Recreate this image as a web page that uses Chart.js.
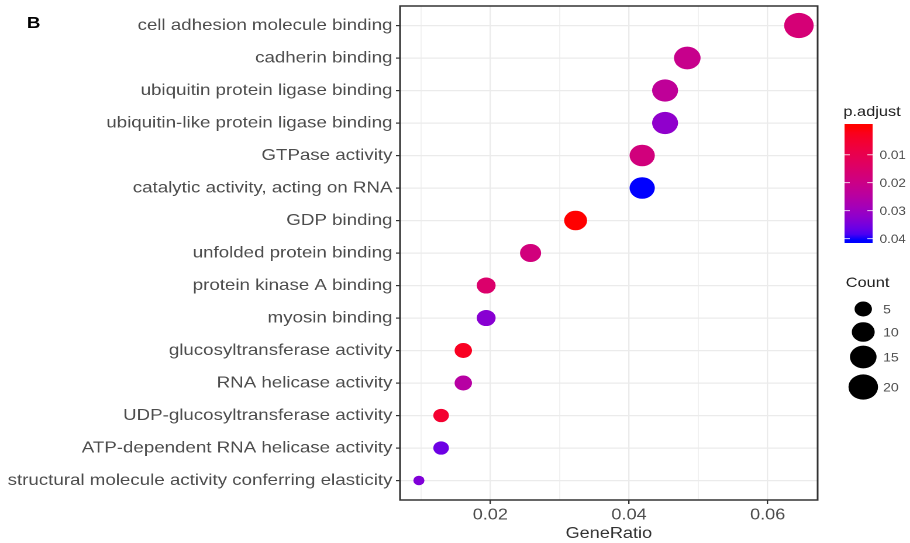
<!DOCTYPE html>
<html>
<head>
<meta charset="utf-8">
<script src="https://cdn.jsdelivr.net/npm/chart.js@4.4.1/dist/chart.umd.min.js"></script>
<style>
  body { margin: 0; background: #fff; overflow: hidden; }
  /* the reference picture is stretched sideways, so the chart is drawn narrow and widened */
  #wrap { position: relative; width: 778px; height: 543px; transform: scaleX(1.1697); transform-origin: 0 0; }
</style>
</head>
<body>
<div id="wrap"><canvas id="chart"></canvas></div>
<script>
const terms = [
    'cell adhesion molecule binding',
    'cadherin binding',
    'ubiquitin protein ligase binding',
    'ubiquitin-like protein ligase binding',
    'GTPase activity',
    'catalytic activity, acting on RNA',
    'GDP binding',
    'unfolded protein binding',
    'protein kinase A binding',
    'myosin binding',
    'glucosyltransferase activity',
    'RNA helicase activity',
    'UDP-glucosyltransferase activity',
    'ATP-dependent RNA helicase activity',
    'structural molecule activity conferring elasticity'
]
const geneRatio = [0.0645, 0.0484, 0.0452, 0.0452, 0.0419, 0.0419, 0.0323, 0.0258, 0.0194, 0.0194, 0.0161, 0.0161, 0.0129, 0.0129, 0.0097]
const counts = [20, 15, 14, 14, 13, 13, 10, 8, 6, 6, 5, 5, 4, 4, 3]
const pAdjust = [0.017, 0.021, 0.023, 0.032, 0.018, 0.0405, 0.0001, 0.018, 0.015, 0.033, 0.003, 0.025, 0.005, 0.036, 0.034]

const xTicks = [0.02, 0.04, 0.06]
const xMinorTicks = [0.01, 0.03, 0.05]
const pTicks = [0.01, 0.02, 0.03, 0.04]
const countBreaks = [5, 10, 15, 20]

const FONT = "'Liberation Sans', Arial, sans-serif"

// colour scale: red -> blue, interpolated in CIELAB like ggplot
const toLin = c => { c /= 255; return c <= 0.04045 ? c / 12.92 : Math.pow((c + 0.055) / 1.055, 2.4) }
const fromLin = c => {
    const v = c <= 0.0031308 ? 12.92 * c : 1.055 * Math.pow(c, 1 / 2.4) - 0.055
    return Math.round(Math.max(0, Math.min(1, v)) * 255)
}
const rgbToLab = ([r, g, b]) => {
    r = toLin(r); g = toLin(g); b = toLin(b)
    let x = (r * 0.4124 + g * 0.3576 + b * 0.1805) / 0.95047
    let y = r * 0.2126 + g * 0.7152 + b * 0.0722
    let z = (r * 0.0193 + g * 0.1192 + b * 0.9505) / 1.08883
    const f = t => t > 0.008856 ? Math.cbrt(t) : 7.787 * t + 16 / 116
    x = f(x); y = f(y); z = f(z)
    return [116 * y - 16, 500 * (x - y), 200 * (y - z)]
}
const labToRgb = ([L, a, b]) => {
    let y = (L + 16) / 116, x = a / 500 + y, z = y - b / 200
    const fi = t => t ** 3 > 0.008856 ? t ** 3 : (t - 16 / 116) / 7.787
    x = fi(x) * 0.95047; y = fi(y); z = fi(z) * 1.08883
    return [
        fromLin(x * 3.2406 - y * 1.5372 - z * 0.4986),
        fromLin(-x * 0.9689 + y * 1.8758 + z * 0.0415),
        fromLin(x * 0.0557 - y * 0.2040 + z * 1.0570)
    ]
}
const labLow = rgbToLab([255, 0, 0])
const labHigh = rgbToLab([0, 0, 255])
const pMin = Math.min(...pAdjust)
const pMax = Math.max(...pAdjust)
const colorAt = t => {
    const lab = labLow.map((v, i) => v + (labHigh[i] - v) * t)
    const [r, g, b] = labToRgb(lab)
    return `rgb(${r},${g},${b})`
}
const pColor = p => colorAt((p - pMin) / (pMax - pMin))

// size scale: like scale_size(range = c(3, 8))
const cMin = Math.min(...counts)
const cMax = Math.max(...counts)
const sizeFor = c => 1.58 * (3 + 5 * Math.sqrt((c - cMin) / (cMax - cMin)))

const ggExtras = {
    id: 'ggExtras',
    afterDatasetsDraw(chart) {
        const { ctx, chartArea: a } = chart
        ctx.save()
        // panel border
        ctx.strokeStyle = '#333'
        ctx.lineWidth = 1.5
        ctx.strokeRect(a.left, a.top, a.right - a.left, a.bottom - a.top)

        // panel letter
        ctx.fillStyle = '#000'
        ctx.font = 'bold 16px ' + FONT
        ctx.textAlign = 'left'
        ctx.textBaseline = 'alphabetic'
        ctx.fillText('B', 23, 28)

        // p.adjust colour bar
        ctx.fillStyle = '#222'
        ctx.font = '14px ' + FONT
        ctx.fillText('p.adjust', 721, 116)
        const bx = 722, bw = 24, by0 = 124, by1 = 243, inset = 3
        const grad = ctx.createLinearGradient(0, by0 + inset, 0, by1 - inset)
        for (let i = 0; i <= 20; i++) grad.addColorStop(i / 20, colorAt(i / 20))
        ctx.fillStyle = grad
        ctx.fillRect(bx, by0, bw, by1 - by0)
        ctx.font = '11.5px ' + FONT
        ctx.textBaseline = 'middle'
        pTicks.forEach(p => {
            const y = by0 + inset + (p - pMin) / (pMax - pMin) * (by1 - by0 - 2 * inset)
            ctx.strokeStyle = 'rgba(255,255,255,0.8)'
            ctx.lineWidth = 1
            ctx.beginPath()
            ctx.moveTo(bx, y); ctx.lineTo(bx + 4.5, y)
            ctx.moveTo(bx + bw - 4.5, y); ctx.lineTo(bx + bw, y)
            ctx.stroke()
            ctx.fillStyle = '#4d4d4d'
            ctx.fillText(p.toFixed(2), 752, y + 1)
        })

        // Count size legend
        ctx.fillStyle = '#222'
        ctx.font = '14px ' + FONT
        ctx.textBaseline = 'alphabetic'
        ctx.fillText('Count', 723, 287)
        const keyY = [309, 332, 357, 387]
        countBreaks.forEach((c, i) => {
            ctx.fillStyle = '#000'
            ctx.beginPath()
            ctx.arc(738, keyY[i], sizeFor(c), 0, Math.PI * 2)
            ctx.fill()
            ctx.fillStyle = '#4d4d4d'
            ctx.font = '12px ' + FONT
            ctx.textBaseline = 'middle'
            ctx.fillText(String(c), 755, keyY[i] + 1)
        })
        ctx.restore()
    }
}

const context = document.getElementById('chart').getContext('2d')
const chart = new Chart(context, {
    type: 'scatter',
    data: {
        datasets: [{
            data: geneRatio.map((g, i) => ({ x: g, y: i })),
            backgroundColor: ctx => pColor(pAdjust[ctx.dataIndex]),
            pointRadius: ctx => sizeFor(counts[ctx.dataIndex]),
            pointHoverRadius: ctx => sizeFor(counts[ctx.dataIndex]),
            borderWidth: 0
        }]
    },
    options: {
        responsive: true,
        maintainAspectRatio: false,
        animation: false,
        devicePixelRatio: 2,
        events: [],
        layout: { autoPadding: false, padding: { top: 6, right: 79, bottom: 0, left: 0 } },
        plugins: { legend: { display: false }, tooltip: { enabled: false } },
        scales: {
            x: {
                type: 'linear',
                min: 0.00698,
                max: 0.0672,
                afterBuildTicks: axis => {
                    axis.ticks = [...xMinorTicks, ...xTicks].sort((a, b) => a - b).map(v => ({ value: v }))
                },
                afterFit: scale => {
                    scale.height = 43
                    scale.paddingLeft = 0
                    scale.paddingRight = 0
                },
                border: { display: false },
                grid: {
                    color: '#ebebeb',
                    lineWidth: ctx => xTicks.includes(ctx.tick && ctx.tick.value) ? 1.2 : 0.7,
                    tickLength: 4,
                    tickColor: ctx => xTicks.includes(ctx.tick && ctx.tick.value) ? '#333' : 'rgba(0,0,0,0)',
                    tickWidth: 1.2
                },
                ticks: {
                    autoSkip: false,
                    maxRotation: 0,
                    padding: 2,
                    color: '#4d4d4d',
                    font: { family: FONT, size: 15.5 },
                    callback: v => xTicks.includes(v) ? v.toFixed(2) : ''
                },
                title: {
                    display: true,
                    text: 'GeneRatio',
                    color: '#333',
                    font: { family: FONT, size: 15.5 },
                    padding: { top: 0, bottom: 0 }
                }
            },
            y: {
                type: 'linear',
                reverse: true,
                min: -0.6,
                max: terms.length - 0.4,
                afterBuildTicks: axis => {
                    axis.ticks = terms.map((t, i) => ({ value: i }))
                },
                afterFit: scale => {
                    scale.width = 342
                    scale.paddingTop = 0
                    scale.paddingBottom = 0
                },
                border: { display: false },
                grid: {
                    color: '#ebebeb',
                    lineWidth: 1.2,
                    tickLength: 3.5,
                    tickColor: '#333',
                    tickWidth: 1.2
                },
                ticks: {
                    autoSkip: false,
                    padding: 3,
                    color: '#4d4d4d',
                    font: { family: FONT, size: 16 },
                    callback: v => terms[v]
                }
            }
        }
    },
    plugins: [ggExtras]
})
</script>
</body>
</html>
